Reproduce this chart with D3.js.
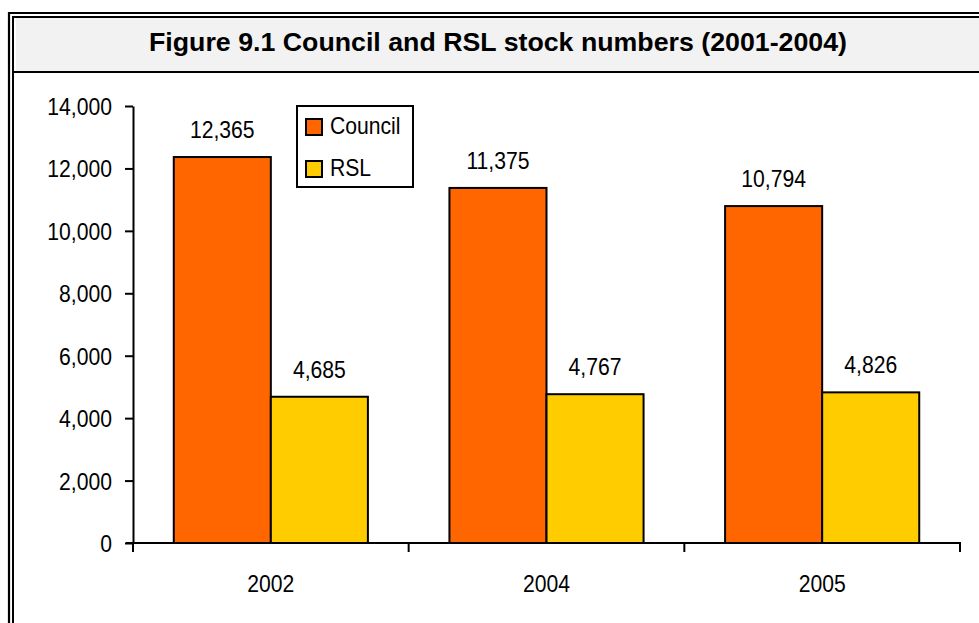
<!DOCTYPE html>
<html>
<head>
<meta charset="utf-8">
<script src="https://cdn.jsdelivr.net/npm/d3@7"></script>
<style>
  body { margin: 0; background: #fff; }
  svg { display: block; font-family: "Liberation Sans", Arial, sans-serif; }
</style>
</head>
<body>
<svg id="chart" width="979" height="623"></svg>
<script>
'use strict';

var title = "Figure 9.1 Council and RSL stock numbers (2001-2004)";
var years = ["2002", "2004", "2005"];
var series = ["Council", "RSL"];
var council = [12365, 11375, 10794];
var rsl = [4685, 4767, 4826];
var colours = ["#ff6600", "#ffcc00"];
var yTicks = [0, 2000, 4000, 6000, 8000, 10000, 12000, 14000];

var fontSize = 23.5;

// the original uses a slightly narrow sans, so squeeze text horizontally
var squeeze = function(sel) {
  sel.attr("transform", function() {
    var tx = +this.getAttribute("x") || 0, ty = +this.getAttribute("y") || 0;
    return "translate(" + tx + "," + ty + ") scale(0.9,1)";
  }).attr("x", 0).attr("y", 0);
};

var svg = d3.select("#chart");

// frame, double line on left and top, runs off the right / bottom
svg.append("rect").attr("x", 16).attr("y", 16).attr("width", 980).attr("height", 56)
  .attr("fill", "#f2f2f2");
svg.append("path").attr("d", "M9,700V13H1000").attr("fill", "none")
  .attr("stroke", "#000").attr("stroke-width", 2.2);
svg.append("path").attr("d", "M13,700V17H1000").attr("fill", "none")
  .attr("stroke", "#000").attr("stroke-width", 2);
svg.append("line").attr("x1", 13).attr("x2", 1000).attr("y1", 72).attr("y2", 72)
  .attr("stroke", "#000").attr("stroke-width", 2);

svg.append("text")
  .attr("x", 498).attr("y", 51)
  .attr("text-anchor", "middle")
  .attr("font-weight", "bold")
  .attr("font-size", 26)
  .attr("textLength", 698)
  .attr("lengthAdjust", "spacingAndGlyphs")
  .text(title);

var x0 = d3.scaleBand().domain(years).range([133, 960]);
var x1 = d3.scaleBand().domain(series).range([0, x0.bandwidth()]).paddingOuter(0.42);
var y = d3.scaleLinear().domain([0, 14000]).range([543, 106]);

var rows = years.map(function(yr, i) {
  return { year: yr, values: [council[i], rsl[i]] };
});

var groups = svg.append("g").selectAll(".grp")
  .data(rows)
  .enter().append("g")
  .attr("class", "grp")
  .attr("transform", function(d) { return "translate(" + x0(d.year) + ",0)"; });

groups.selectAll("rect")
  .data(function(d) { return d.values.map(function(v, j) { return { s: series[j], v: v, c: colours[j] }; }); })
  .enter().append("rect")
  .attr("x", function(d) { return x1(d.s); })
  .attr("y", function(d) { return y(d.v); })
  .attr("width", x1.bandwidth())
  .attr("height", function(d) { return y(0) - y(d.v); })
  .attr("fill", function(d) { return d.c; })
  .attr("stroke", "#000")
  .attr("stroke-width", 2);

groups.selectAll(".lbl")
  .data(function(d) { return d.values.map(function(v, j) { return { s: series[j], v: v }; }); })
  .enter().append("text")
  .attr("class", "lbl")
  .attr("x", function(d) { return x1(d.s) + x1.bandwidth() / 2; })
  .attr("y", function(d) { return y(d.v) - 19; })
  .attr("text-anchor", "middle")
  .attr("font-size", fontSize)
  .text(function(d) { return d3.format(",")(d.v); })
  .call(squeeze);

// y axis
var yAxis = svg.append("g")
  .attr("transform", "translate(133,0)")
  .call(d3.axisLeft(y).tickValues(yTicks).tickFormat(d3.format(",")).tickSize(8).tickPadding(13).tickSizeOuter(0));
yAxis.attr("font-family", null).attr("font-size", null);
yAxis.select(".domain").attr("stroke-width", 2);
yAxis.selectAll(".tick line").attr("stroke-width", 2);
yAxis.selectAll("text")
  .attr("font-size", fontSize)
  .attr("fill", "#000")
  .attr("dy", "0.36em")
  .call(squeeze);

// x axis: line, ticks at category boundaries, labels centred
svg.append("line")
  .attr("x1", 126).attr("x2", x0.range()[1] + 1)
  .attr("y1", y(0)).attr("y2", y(0))
  .attr("stroke", "#000").attr("stroke-width", 2);
var bounds = years.map(function(d) { return x0(d); }).concat([x0.range()[1]]);
svg.selectAll(".xtick")
  .data(bounds)
  .enter().append("line")
  .attr("class", "xtick")
  .attr("x1", function(d) { return d; }).attr("x2", function(d) { return d; })
  .attr("y1", y(0)).attr("y2", y(0) + 9)
  .attr("stroke", "#000").attr("stroke-width", 2);
svg.selectAll(".xlbl")
  .data(years)
  .enter().append("text")
  .attr("class", "xlbl")
  .attr("x", function(d) { return x0(d) + x0.bandwidth() / 2; })
  .attr("y", 592)
  .attr("text-anchor", "middle")
  .attr("font-size", fontSize)
  .text(function(d) { return d; })
  .call(squeeze);

// legend
var leg = svg.append("g").attr("transform", "translate(297,106)");
leg.append("rect").attr("width", 116).attr("height", 81)
  .attr("fill", "#fff").attr("stroke", "#000").attr("stroke-width", 2);
var items = leg.selectAll(".item")
  .data(series)
  .enter().append("g")
  .attr("class", "item")
  .attr("transform", function(d, i) { return "translate(9," + (13 + i * 42) + ")"; });
items.append("rect").attr("width", 16).attr("height", 16)
  .attr("fill", function(d, i) { return colours[i]; })
  .attr("stroke", "#000").attr("stroke-width", 2);
items.append("text").attr("x", 24).attr("y", 15)
  .attr("font-size", fontSize)
  .text(function(d) { return d; })
  .call(squeeze);
</script>
</body>
</html>
